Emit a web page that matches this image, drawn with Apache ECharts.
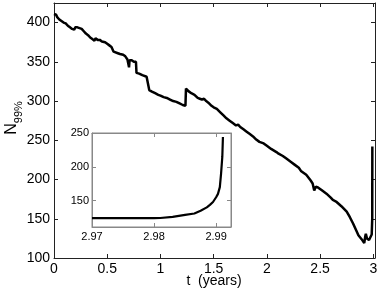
<!DOCTYPE html>
<html><head><meta charset="utf-8">
<script src="https://cdn.jsdelivr.net/npm/echarts@6/dist/echarts.min.js"></script>
<style>html,body{margin:0;padding:0;background:#fff}#c{width:381px;height:293px}</style>
</head><body><div id="c"></div>
<script>
// Main series: time (years) and N99%
var tYears = [0,0.01,0.02,0.03,0.05,0.07,0.09,0.11,0.13,0.15,0.17,0.19,0.2,0.22,0.24,0.26,0.28,0.30,0.32,0.34,0.36,0.38,0.39,0.41,0.43,0.45,0.48,0.50,0.52,0.54,0.56,0.57,0.60,0.62,0.65,0.67,0.69,0.70,0.705,0.71,0.73,0.75,0.77,0.775,0.80,0.83,0.87,0.885,0.895,0.92,0.95,0.98,1.00,1.03,1.06,1.09,1.12,1.15,1.18,1.21,1.235,1.24,1.26,1.29,1.32,1.35,1.37,1.38,1.39,1.41,1.43,1.45,1.48,1.50,1.53,1.54,1.56,1.57,1.59,1.62,1.65,1.68,1.71,1.72,1.73,1.75,1.78,1.81,1.82,1.84,1.87,1.90,1.93,1.97,2.00,2.04,2.09,2.11,2.12,2.15,2.18,2.23,2.26,2.27,2.30,2.32,2.37,2.41,2.43,2.445,2.455,2.46,2.48,2.52,2.56,2.60,2.62,2.63,2.65,2.70,2.75,2.78,2.81,2.84,2.86,2.89,2.915,2.925,2.93,2.94,2.96,2.975,2.985,2.99,2.991];
var nVals = [411,409,410,407,404,402,400,399,396,394,392,391,394,394,393,392,389,386,384,381,379,377,380,378,378,376,375,373,371,369,363,361,361,360,359,357,353,351,343,352,352,350,350,336,335,333,331,330,314,312,310,308,307,305,304,302,300,299,297,295,294,316,313,310,308,304,303,305,302,303,300,298,294,292,290,291,286,287,282,278,275,272,269,268,270,267,264,261,262,258,255,251,248,246,243,239,235,233,234,230,227,222,219,220,215,211,206,199,195,186,185,191,190,186,182,177,174,175,172,166,159,152,144,135,129,124,119,128,131,125,123,123,130,150,242];
// Inset series
var insetT = [2.97,2.975,2.98,2.981,2.983,2.985,2.9865,2.9875,2.9885,2.989,2.9895,2.99,2.9903,2.9906,2.9908,2.991,2.9911];
var insetN = [124,124,124,124.3,126,129,131,135,140,143.7,148,155,160,170,190,215,244];
var mainXTicks = [0,0.5,1,1.5,2,2.5,3];
var mainYTicks = [100,150,200,250,300,350,400];
var insetXTicks = [2.97,2.98,2.99];
var insetYTicks = [150,200,250];

function pairs(a,b){return a.map(function(v,i){return [v,b[i]];});}
var font = 'Liberation Sans, Arial, sans-serif';
var axC = '#222', inC = '#888';
function ax(type, gi, pos, min, max, ticks, col, fs, showLabel, m){
  return {
    type:'value', gridIndex:gi, position:pos, min:min, max:max,
    axisLine:{show:true, onZero:false, lineStyle:{color:col, width:1}},
    axisTick:{show:true, inside:true, length:4, customValues:ticks, lineStyle:{color:col}},
    axisLabel:{show:showLabel, customValues:ticks, color:'#000', fontSize:fs, fontFamily:font, margin:m},
    splitLine:{show:false}
  };
}
var chart = echarts.init(document.getElementById('c'));
chart.setOption({
  animation:false,
  grid:[
    {left:54, right:6, top:3, bottom:35},
    {left:92, right:150, top:133, bottom:66, show:true, backgroundColor:'#fff', borderColor:inC, borderWidth:1, z:5}
  ],
  xAxis:[
    ax('x',0,'bottom',0,3.016,mainXTicks,axC,14,true,4),
    ax('x',0,'top',0,3.016,mainXTicks,axC,14,false,4),
    Object.assign(ax('x',1,'bottom',2.97,2.9924,insetXTicks,inC,11,true,4),{z:6}),
    Object.assign(ax('x',1,'top',2.97,2.9924,insetXTicks,inC,11,false,4),{z:6})
  ],
  yAxis:[
    ax('y',0,'left',100,425,mainYTicks,axC,14,true,4),
    ax('y',0,'right',100,425,mainYTicks,axC,14,false,4),
    Object.assign(ax('y',1,'left',111,250,insetYTicks,inC,11,true,3),{z:6}),
    Object.assign(ax('y',1,'right',111,250,insetYTicks,inC,11,false,3),{z:6})
  ],
  series:[
    {type:'line', xAxisIndex:0, yAxisIndex:0, data:pairs(tYears,nVals), showSymbol:false, lineStyle:{color:'#000', width:2.5}, z:2},
    {type:'line', xAxisIndex:2, yAxisIndex:2, data:pairs(insetT,insetN), showSymbol:false, smooth:false, lineStyle:{color:'#000', width:2.2}, z:10}
  ],
  graphic:[
    {type:'text', x:214, y:281, style:{text:'t  (years)', font:'14px '+font, fill:'#000', align:'center', verticalAlign:'middle'}},
    {type:'text', x:14, y:118, rotation:Math.PI/2, style:{text:'{n|N}{s|99%}', align:'center', verticalAlign:'middle', fill:'#000',
      rich:{n:{fontSize:16, fontFamily:font, lineHeight:20, verticalAlign:'top'}, s:{fontSize:11, fontFamily:font, lineHeight:20, verticalAlign:'bottom', padding:[8,0,0,0]}}}}
  ]
});
</script></body></html>
